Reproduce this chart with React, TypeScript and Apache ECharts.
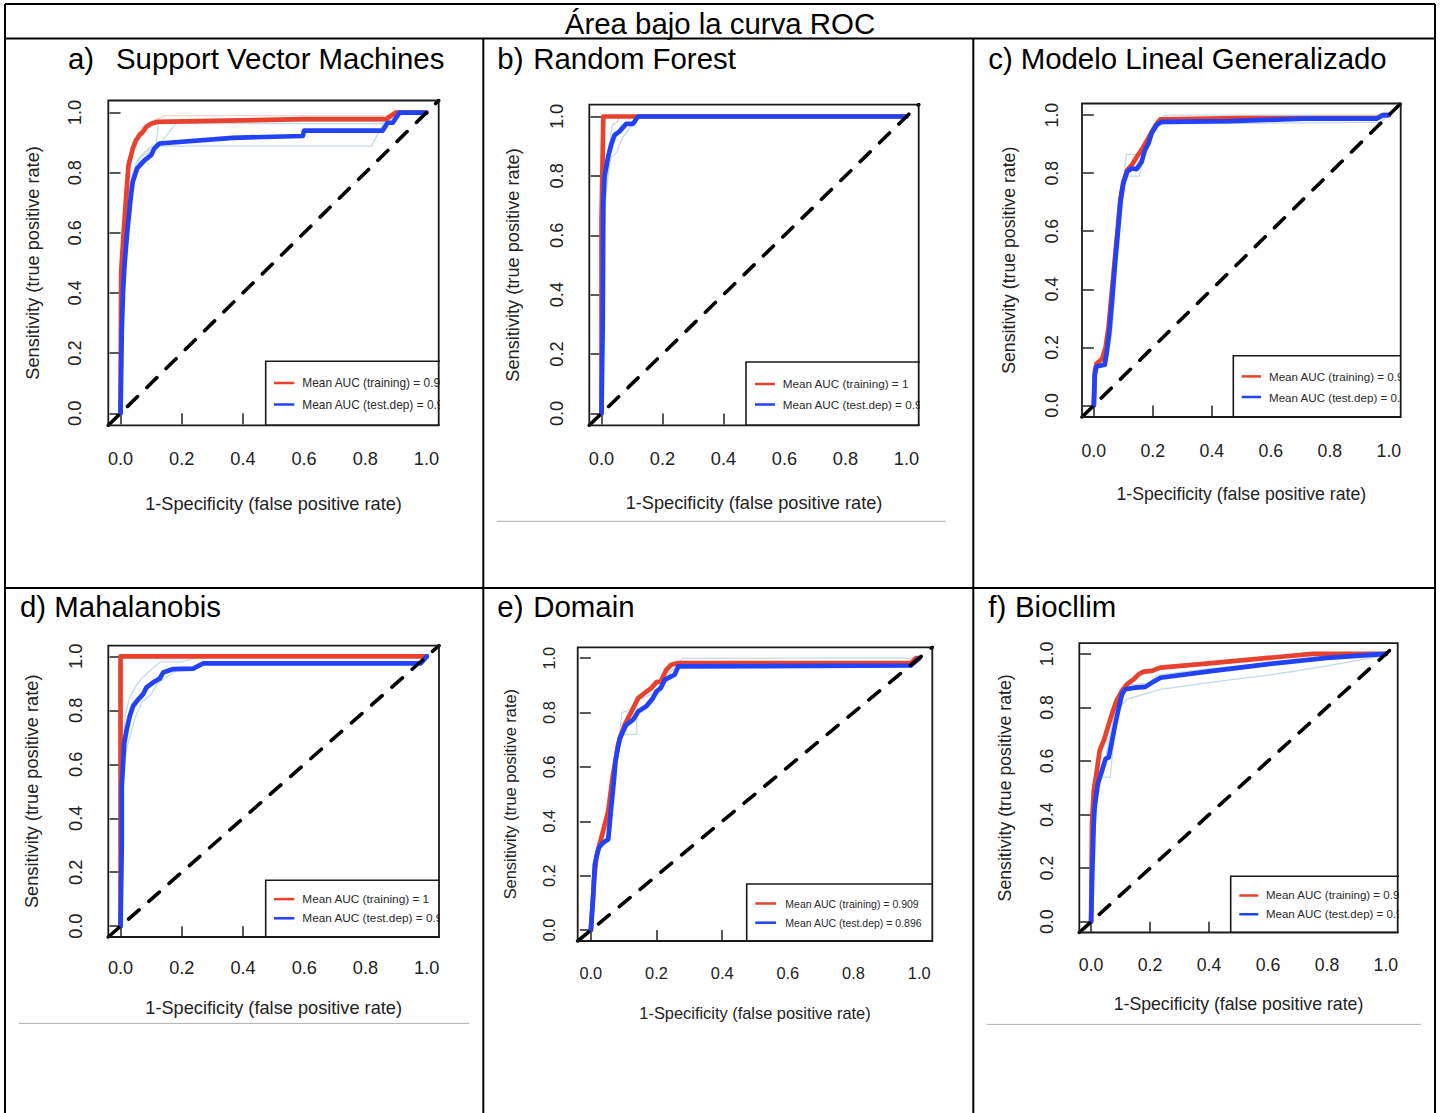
import React, { useEffect, useRef } from "react";
import * as echarts from "echarts";

const FONT = "'Liberation Sans', Arial, Helvetica, sans-serif";

// ---------- texts ----------
const MAIN_TITLE = "Área bajo la curva ROC";
const PANEL_LETTERS = ["a)", "b)", "c)", "d)", "e)", "f)"];
const PANEL_NAMES = [
  "Support Vector Machines",
  "Random Forest",
  "Modelo Lineal Generalizado",
  "Mahalanobis",
  "Domain",
  "Biocllim",
];
const X_TITLE = "1-Specificity (false positive rate)";
const Y_TITLE = "Sensitivity (true positive rate)";
const LEGEND_TRAIN = [
  "Mean AUC (training) = 0.9",
  "Mean AUC (training) = 1",
  "Mean AUC (training) = 0.9",
  "Mean AUC (training) = 1",
  "Mean AUC (training) = 0.909",
  "Mean AUC (training) = 0.9",
];
const LEGEND_TEST = [
  "Mean AUC (test.dep) = 0.9",
  "Mean AUC (test.dep) = 0.9",
  "Mean AUC (test.dep) = 0.9",
  "Mean AUC (test.dep) = 0.9",
  "Mean AUC (test.dep) = 0.896",
  "Mean AUC (test.dep) = 0.9",
];

// ---------- axes ----------
const X_TICKS = [0, 0.2, 0.4, 0.6, 0.8, 1.0];
const Y_TICKS = [0, 0.2, 0.4, 0.6, 0.8, 1.0];
const AXIS_MIN = -0.04;
const AXIS_MAX = 1.04;
const DIAGONAL = [
  [AXIS_MIN, AXIS_MIN],
  [AXIS_MAX, AXIS_MAX],
];

// ---------- a) Support Vector Machines ----------
const TRAIN_A = [[0,0],[0.002,0.47],[0.01,0.6],[0.018,0.715],[0.026,0.825],[0.04,0.88],[0.051,0.908],[0.062,0.925],[0.073,0.935],[0.084,0.952],[0.1,0.963],[0.122,0.969],[0.3,0.972],[0.6,0.978],[0.868,0.978],[0.885,0.99],[0.9,1.0],[1,1]];
const TEST_A = [[0,0],[0.004,0.27],[0.008,0.4],[0.013,0.493],[0.022,0.604],[0.033,0.715],[0.04,0.77],[0.054,0.814],[0.078,0.841],[0.1,0.858],[0.11,0.88],[0.127,0.897],[0.366,0.916],[0.596,0.922],[0.6,0.94],[0.857,0.94],[0.873,0.966],[0.89,0.966],[0.912,1.0],[1,1]];
const REP_A1 = [[0,0],[0.005,0.4],[0.015,0.6],[0.03,0.75],[0.05,0.83],[0.08,0.87],[0.1,0.888],[0.82,0.888],[0.86,0.966],[0.9,0.99],[0.93,1],[1,1]];
const REP_A2 = [[0,0],[0.005,0.45],[0.02,0.7],[0.04,0.8],[0.06,0.85],[0.1,0.87],[0.115,0.89],[0.125,0.97],[0.87,0.97],[0.9,1],[1,1]];
const REP_A3 = [[0,0],[0.005,0.42],[0.02,0.68],[0.04,0.79],[0.07,0.86],[0.1,0.88],[0.12,0.886],[0.181,0.963],[0.86,0.963],[0.89,0.98],[0.93,1],[1,1]];
const PINK_A = [[0,0],[0.004,0.5],[0.02,0.78],[0.04,0.9],[0.07,0.95],[0.11,0.975],[0.145,0.99],[0.88,0.99],[0.9,1],[1,1]];

// ---------- b) Random Forest ----------
const TRAIN_B = [[0,0],[0,0.65],[0.006,1.0],[1,1]];
const TEST_B = [[0,0],[0.004,0.3],[0.006,0.709],[0.01,0.797],[0.021,0.861],[0.032,0.906],[0.043,0.9375],[0.059,0.95],[0.081,0.975],[0.103,0.975],[0.12,1.0],[1,1]];
const REP_B1 = [[0,0],[0.005,0.6],[0.012,0.82],[0.025,0.9],[0.035,0.97],[0.05,0.98],[0.06,1.0],[1,1]];
const REP_B2 = [[0,0],[0.005,0.5],[0.015,0.75],[0.03,0.86],[0.05,0.88],[0.07,0.93],[0.1,0.97],[0.12,1.0],[1,1]];

// ---------- c) Modelo Lineal Generalizado ----------
const TRAIN_C = [[0,0],[0.004,0.12],[0.01,0.145],[0.028,0.16],[0.04,0.2],[0.05,0.27],[0.06,0.38],[0.07,0.49],[0.08,0.6],[0.09,0.71],[0.1,0.77],[0.113,0.81],[0.13,0.83],[0.148,0.86],[0.162,0.88],[0.18,0.912],[0.195,0.94],[0.21,0.965],[0.225,0.985],[0.5,0.99],[0.96,0.99],[0.98,1.0],[1,1]];
const TEST_C = [[0,0],[0.003,0.105],[0.009,0.134],[0.037,0.14],[0.043,0.176],[0.052,0.247],[0.062,0.362],[0.071,0.477],[0.081,0.592],[0.091,0.707],[0.1,0.764],[0.113,0.805],[0.128,0.816],[0.145,0.814],[0.162,0.839],[0.173,0.879],[0.185,0.902],[0.196,0.937],[0.213,0.966],[0.23,0.977],[0.46,0.979],[0.71,0.988],[0.96,0.988],[0.98,1.0],[1,1]];
const REP_C1 = [[0,0],[0.004,0.1],[0.01,0.14],[0.04,0.15],[0.05,0.25],[0.06,0.35],[0.075,0.55],[0.09,0.7],[0.1,0.76],[0.11,0.865],[0.145,0.865],[0.16,0.87],[0.175,0.9],[0.2,0.96],[0.24,1.0],[1,1]];
const REP_C2 = [[0,0],[0.004,0.1],[0.012,0.14],[0.04,0.14],[0.06,0.24],[0.07,0.38],[0.08,0.52],[0.09,0.62],[0.1,0.73],[0.11,0.79],[0.155,0.79],[0.165,0.86],[0.18,0.89],[0.2,0.95],[0.22,0.97],[0.97,0.975],[1,1]];

// ---------- d) Mahalanobis ----------
const TRAIN_D = [[0,0],[0,1],[1,1]];
const TEST_D = [[0,0],[0.004,0.3],[0.004,0.516],[0.012,0.678],[0.02,0.728],[0.03,0.778],[0.041,0.816],[0.057,0.84],[0.073,0.859],[0.084,0.884],[0.106,0.903],[0.128,0.918],[0.139,0.94],[0.172,0.953],[0.237,0.955],[0.27,0.974],[0.98,0.974],[1,1]];
const REP_D1 = [[0,0],[0.004,0.6],[0.015,0.78],[0.03,0.85],[0.05,0.89],[0.07,0.92],[0.09,0.94],[0.13,0.98],[0.2,0.98],[0.26,1.0],[1,1]];
const REP_D2 = [[0,0],[0.006,0.55],[0.02,0.66],[0.035,0.72],[0.05,0.78],[0.07,0.83],[0.1,0.86],[0.12,0.9],[0.16,0.93],[0.2,0.96],[0.25,0.96],[0.28,0.98],[0.98,0.98],[1,1]];

// ---------- e) Domain ----------
const TRAIN_E = [[0,0],[0.01,0.185],[0.017,0.27],[0.032,0.34],[0.053,0.438],[0.066,0.559],[0.083,0.682],[0.103,0.755],[0.124,0.804],[0.144,0.853],[0.164,0.872],[0.184,0.89],[0.2,0.912],[0.213,0.914],[0.23,0.957],[0.245,0.976],[0.265,0.982],[0.975,0.982],[0.99,1.0],[1,1]];
const TEST_E = [[0,0],[0.007,0.12],[0.012,0.241],[0.024,0.303],[0.037,0.321],[0.053,0.334],[0.061,0.438],[0.071,0.559],[0.075,0.621],[0.088,0.706],[0.108,0.755],[0.129,0.774],[0.144,0.804],[0.169,0.823],[0.189,0.853],[0.2,0.878],[0.213,0.89],[0.225,0.92],[0.245,0.933],[0.255,0.939],[0.267,0.97],[0.975,0.973],[1,1]];
const REP_E1 = [[0,0],[0.008,0.2],[0.03,0.32],[0.055,0.42],[0.07,0.6],[0.085,0.7],[0.095,0.8],[0.12,0.81],[0.15,0.85],[0.19,0.87],[0.22,0.91],[0.25,0.96],[0.28,1.0],[1,1]];
const REP_E2 = [[0,0],[0.01,0.22],[0.03,0.31],[0.055,0.4],[0.068,0.55],[0.085,0.68],[0.1,0.72],[0.14,0.72],[0.14,0.8],[0.18,0.83],[0.21,0.88],[0.24,0.95],[0.27,0.97],[0.97,0.97],[1,1]];

// ---------- f) Biocllim ----------
const TRAIN_F = [[0,0],[0.003,0.366],[0.009,0.49],[0.018,0.552],[0.029,0.639],[0.043,0.676],[0.06,0.738],[0.074,0.787],[0.086,0.825],[0.105,0.862],[0.122,0.887],[0.145,0.906],[0.161,0.924],[0.178,0.934],[0.207,0.937],[0.235,0.949],[0.4,0.965],[0.6,0.985],[0.75,1.0],[1,1]];
const TEST_F = [[0,0],[0.004,0.18],[0.009,0.366],[0.012,0.428],[0.023,0.515],[0.037,0.564],[0.049,0.608],[0.06,0.614],[0.071,0.676],[0.082,0.738],[0.094,0.8],[0.105,0.85],[0.116,0.868],[0.15,0.874],[0.184,0.877],[0.207,0.893],[0.235,0.911],[0.4,0.935],[0.6,0.962],[0.8,0.985],[1,1]];
const REP_F1 = [[0,0],[0.005,0.35],[0.015,0.48],[0.03,0.54],[0.065,0.54],[0.075,0.66],[0.095,0.8],[0.12,0.83],[0.235,0.868],[0.45,0.9],[0.63,0.925],[0.8,0.955],[1,0.995]];
const REP_F2 = [[0,0],[0.005,0.4],[0.02,0.55],[0.05,0.62],[0.08,0.78],[0.1,0.86],[0.13,0.885],[0.2,0.89],[0.22,0.92],[0.4,0.945],[0.7,0.975],[1,1]];
const PINK_F = [[0,0],[0.004,0.4],[0.02,0.56],[0.04,0.66],[0.07,0.78],[0.1,0.87],[0.13,0.9],[0.2,0.94],[0.5,0.975],[0.75,1],[1,1]];

const PANEL_SERIES = [
  { train: TRAIN_A, test: TEST_A, reps: [REP_A1, REP_A2, REP_A3], pinks: [PINK_A] },
  { train: TRAIN_B, test: TEST_B, reps: [REP_B1, REP_B2], pinks: [] },
  { train: TRAIN_C, test: TEST_C, reps: [REP_C1, REP_C2], pinks: [] },
  { train: TRAIN_D, test: TEST_D, reps: [REP_D1, REP_D2], pinks: [] },
  { train: TRAIN_E, test: TEST_E, reps: [REP_E1, REP_E2], pinks: [] },
  { train: TRAIN_F, test: TEST_F, reps: [REP_F1, REP_F2], pinks: [PINK_F] },
];

// ---------- layout & styles ----------
const RED = "#e8412e";
const BLUE = "#2142f7";
const LIGHTBLUE = "#c3dbe8";
const PINK = "#f6cfcf";
const INK = "#222222";
const TITLE_FS = 29.4;

const LAYOUT = [
  { box: [108.3, 100.5, 330.4, 324.8], letterX: 68, nameX: 116, titleY: 58.3, fs: 18.2, xlabM: 24.6, xNameGap: 69.9, ylabM: 24.2, yNameGap: 66.2,
    leg: { l: 157.4, t: 260.8, ry: 21.8, by: 43.3, lx1: 8.3, lx2: 28.6, tx: 36.6, fs: 11.9 } },
  { box: [589.3, 104.6, 329.4, 320.7], letterX: 497.3, nameX: 533.3, titleY: 58.3, fs: 18.2, xlabM: 24.8, xNameGap: 68.8, ylabM: 23.5, yNameGap: 66.9,
    leg: { l: 156.7, t: 257.4, ry: 21.9, by: 42.6, lx1: 9, lx2: 29, tx: 36.7, fs: 11.7 } },
  { box: [1082, 103.5, 318.7, 313.5], letterX: 988.3, nameX: 1020.7, titleY: 58.3, fs: 17.7, xlabM: 24.6, xNameGap: 67.9, ylabM: 21.4, yNameGap: 63.9,
    leg: { l: 151.3, t: 252.2, ry: 20.7, by: 41.3, lx1: 8.4, lx2: 27.7, tx: 35.7, fs: 11.6 } },
  { box: [108.3, 645.6, 330.7, 291.4], letterX: 20, nameX: 54.3, titleY: 606.4, fs: 18.2, xlabM: 21.7, xNameGap: 61.5, ylabM: 23.2, yNameGap: 67.5,
    leg: { l: 157.4, t: 234.7, ry: 18.8, by: 38, lx1: 8.3, lx2: 28.6, tx: 36.6, fs: 11.8 } },
  { box: [577.7, 647.3, 354.6, 293.7], letterX: 497.3, nameX: 533.3, titleY: 606.4, fs: 16.4, xlabM: 24, xNameGap: 64.1, ylabM: 21.2, yNameGap: 60.2,
    leg: { l: 169, t: 236.7, ry: 19.5, by: 38.7, lx1: 8.6, lx2: 29.3, tx: 38.6, fs: 10.5 } },
  { box: [1079.3, 643.2, 318.4, 289.3], letterX: 988.3, nameX: 1015, titleY: 606.4, fs: 17.7, xlabM: 23.1, xNameGap: 62.9, ylabM: 23.1, yNameGap: 65.4,
    leg: { l: 151.4, t: 233, ry: 19.2, by: 38.1, lx1: 8.6, lx2: 27.6, tx: 35.3, fs: 11.5 } },
];

function fmt(v: number) {
  return v.toFixed(1);
}

function buildOption() {
  const grid: any[] = [];
  const xAxis: any[] = [];
  const yAxis: any[] = [];
  const series: any[] = [];
  const graphic: any[] = [];

  // table frame
  const tableLine = (x1: number, y1: number, x2: number, y2: number, w = 2, c = "#000") => ({
    type: "line",
    silent: true,
    z: 200,
    shape: { x1, y1, x2, y2 },
    style: { stroke: c, lineWidth: w },
  });
  graphic.push(tableLine(5, 4, 1435, 4));
  graphic.push(tableLine(5, 38.5, 1435, 38.5));
  graphic.push(tableLine(5, 588, 1435, 588));
  graphic.push(tableLine(5, 4, 5, 1113));
  graphic.push(tableLine(1435, 4, 1435, 1113));
  graphic.push(tableLine(483.3, 38.5, 483.3, 1113));
  graphic.push(tableLine(973.3, 38.5, 973.3, 1113));
  graphic.push(tableLine(496.7, 521.3, 946, 521.3, 1, "#b0b0b0"));
  graphic.push(tableLine(19, 1023.4, 469, 1023.4, 1, "#b0b0b0"));
  graphic.push(tableLine(986.7, 1024.4, 1421, 1024.4, 1, "#b0b0b0"));

  graphic.push({
    type: "text",
    x: 720,
    y: 23,
    silent: true,
    style: { text: MAIN_TITLE, fontSize: TITLE_FS, fontFamily: FONT, fill: "#000", align: "center", verticalAlign: "middle" },
  });

  LAYOUT.forEach((lay, i) => {
    const [bx, by, bw, bh] = lay.box;
    const ps = PANEL_SERIES[i];
    grid.push({ left: bx, top: by, width: bw, height: bh, show: false, containLabel: false });

    graphic.push({
      type: "text",
      x: lay.letterX,
      y: lay.titleY,
      silent: true,
      style: { text: PANEL_LETTERS[i], fontSize: TITLE_FS, fontFamily: FONT, fill: "#000", align: "left", verticalAlign: "middle" },
    });
    graphic.push({
      type: "text",
      x: lay.nameX,
      y: lay.titleY,
      silent: true,
      style: { text: PANEL_NAMES[i], fontSize: TITLE_FS, fontFamily: FONT, fill: "#000", align: "left", verticalAlign: "middle" },
    });
    // plot box (R box())
    graphic.push({
      type: "rect",
      silent: true,
      z: 150,
      shape: { x: bx, y: by, width: bw, height: bh },
      style: { fill: "none", stroke: "#1a1a1a", lineWidth: 1.8 },
    });

    const labelStyle = { fontSize: lay.fs, fontFamily: FONT, color: INK };
    xAxis.push({
      type: "value",
      gridIndex: i,
      min: AXIS_MIN,
      max: AXIS_MAX,
      axisLine: { show: false },
      splitLine: { show: false },
      axisTick: { show: true, length: 11, customValues: X_TICKS, lineStyle: { color: INK, width: 1.5 } },
      axisLabel: { customValues: X_TICKS, formatter: fmt, margin: lay.xlabM, hideOverlap: false, ...labelStyle },
      name: X_TITLE,
      nameLocation: "middle",
      nameGap: lay.xNameGap,
      nameTextStyle: labelStyle,
    });
    yAxis.push({
      type: "value",
      gridIndex: i,
      min: AXIS_MIN,
      max: AXIS_MAX,
      axisLine: { show: false },
      splitLine: { show: false },
      axisTick: { show: true, length: 11, customValues: Y_TICKS, lineStyle: { color: INK, width: 1.5 } },
      axisLabel: { customValues: Y_TICKS, formatter: fmt, rotate: 90, margin: lay.ylabM, hideOverlap: false, ...labelStyle },
      name: Y_TITLE,
      nameLocation: "middle",
      nameRotate: 90,
      nameGap: lay.yNameGap,
      nameTextStyle: labelStyle,
    });

    const line = (data: number[][], color: string, width: number, z: number) => ({
      type: "line",
      xAxisIndex: i,
      yAxisIndex: i,
      data,
      symbol: "none",
      showSymbol: false,
      silent: true,
      z,
      lineStyle: { color, width, cap: "round", join: "round" },
    });

    ps.pinks.forEach((d) => series.push(line(d, PINK, 1.3, 2)));
    ps.reps.forEach((d) => series.push(line(d, LIGHTBLUE, 1.3, 2)));
    series.push(line(ps.train, RED, 4.7, 3));
    series.push(line(ps.test, BLUE, 4.7, 4));
    series.push({
      type: "line",
      xAxisIndex: i,
      yAxisIndex: i,
      data: DIAGONAL,
      symbol: "none",
      showSymbol: false,
      silent: true,
      z: 5,
      lineStyle: { color: "#000", width: 3.6, type: [14, 13], cap: "round" },
    });

    const lg = lay.leg;
    series.push({
      type: "custom",
      xAxisIndex: i,
      yAxisIndex: i,
      clip: true,
      silent: true,
      z: 6,
      data: [[0.5, 0.5]],
      renderItem: (params: any) => {
        const cs = params.coordSys;
        const L = cs.x + lg.l;
        const T = cs.y + lg.t;
        const B = cs.y + cs.height;
        return {
          type: "group",
          children: [
            { type: "rect", shape: { x: L, y: T, width: 260, height: B - T }, style: { fill: "#fff", stroke: "#1a1a1a", lineWidth: 1.6 } },
            { type: "line", shape: { x1: L + lg.lx1, y1: T + lg.ry, x2: L + lg.lx2, y2: T + lg.ry }, style: { stroke: RED, lineWidth: 2.5 } },
            { type: "line", shape: { x1: L + lg.lx1, y1: T + lg.by, x2: L + lg.lx2, y2: T + lg.by }, style: { stroke: BLUE, lineWidth: 2.5 } },
            { type: "text", x: L + lg.tx, y: T + lg.ry, style: { text: LEGEND_TRAIN[i], fill: "#2a2a2a", fontSize: lg.fs, fontFamily: FONT, align: "left", verticalAlign: "middle" } },
            { type: "text", x: L + lg.tx, y: T + lg.by, style: { text: LEGEND_TEST[i], fill: "#2a2a2a", fontSize: lg.fs, fontFamily: FONT, align: "left", verticalAlign: "middle" } },
          ],
        };
      },
    });
  });

  return {
    animation: false,
    backgroundColor: "#ffffff",
    textStyle: { fontFamily: FONT },
    grid,
    xAxis,
    yAxis,
    series,
    graphic: { elements: graphic },
  };
}

export default function App() {
  const ref = useRef<HTMLDivElement>(null);
  useEffect(() => {
    if (!ref.current) return;
    const chart = echarts.init(ref.current, null, { renderer: "svg" });
    chart.setOption(buildOption() as any);
    return () => chart.dispose();
  }, []);
  return (
    <div
      ref={ref}
      style={{ position: "absolute", left: 0, top: 0, width: 1441, height: 1113, background: "#fff" }}
    />
  );
}
